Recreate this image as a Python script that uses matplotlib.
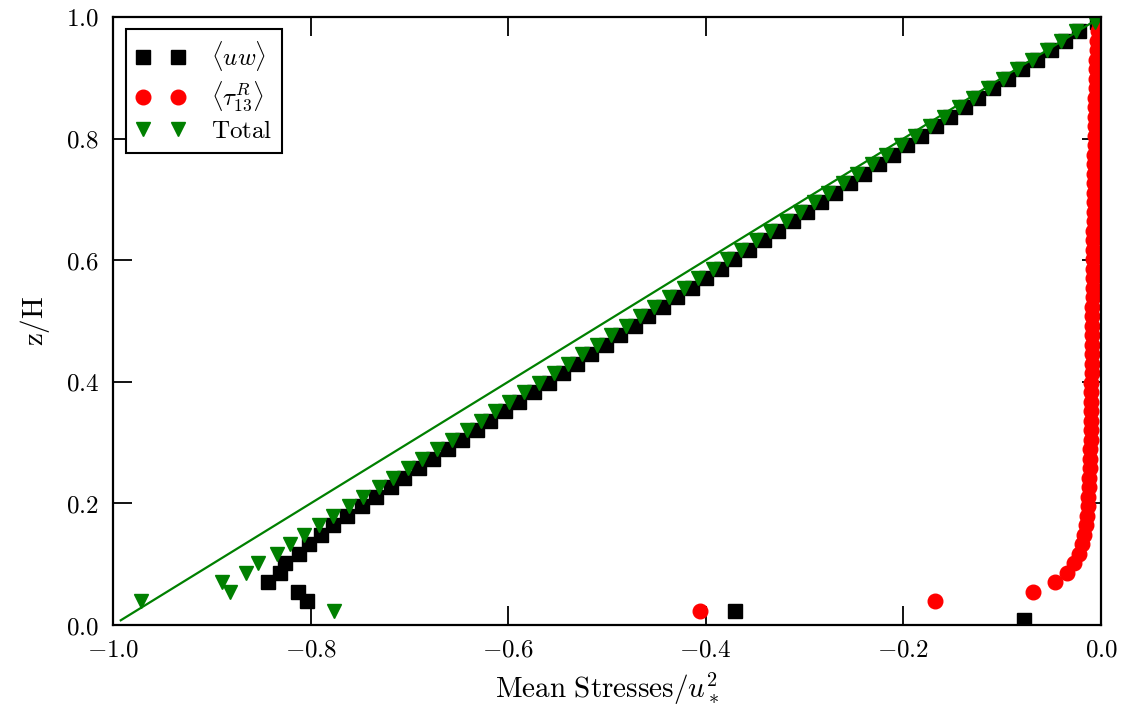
import matplotlib
matplotlib.use('Agg')
import matplotlib.pyplot as plt
import numpy as np
from matplotlib.ticker import FuncFormatter

plt.rcParams['mathtext.fontset'] = 'cm'
plt.rcParams['font.family'] = 'serif'

# vertical grid levels z/H
z = [0.0078, 0.0234, 0.0391, 0.0547, 0.0703, 0.0859, 0.1016, 0.1172,
     0.1328, 0.1484, 0.1641, 0.1797, 0.1953, 0.2109, 0.2266, 0.2422,
     0.2578, 0.2734, 0.2891, 0.3047, 0.3203, 0.3359, 0.3516, 0.3672,
     0.3828, 0.3984, 0.4141, 0.4297, 0.4453, 0.4609, 0.4766, 0.4922,
     0.5078, 0.5234, 0.5391, 0.5547, 0.5703, 0.5859, 0.6016, 0.6172,
     0.6328, 0.6484, 0.6641, 0.6797, 0.6953, 0.7109, 0.7266, 0.7422,
     0.7578, 0.7734, 0.7891, 0.8047, 0.8203, 0.8359, 0.8516, 0.8672,
     0.8828, 0.8984, 0.9141, 0.9297, 0.9453, 0.9609, 0.9766, 0.9922]

# resolved stress <uw>
uw = [-0.078, -0.370, -0.804, -0.813, -0.843, -0.831, -0.826, -0.812,
      -0.802, -0.790, -0.777, -0.763, -0.748, -0.734, -0.719, -0.705,
      -0.690, -0.676, -0.661, -0.647, -0.632, -0.618, -0.603, -0.589,
      -0.574, -0.559, -0.545, -0.530, -0.516, -0.501, -0.487, -0.472,
      -0.458, -0.443, -0.429, -0.414, -0.400, -0.385, -0.371, -0.356,
      -0.341, -0.327, -0.312, -0.298, -0.283, -0.269, -0.254, -0.240,
      -0.225, -0.211, -0.196, -0.182, -0.167, -0.153, -0.138, -0.124,
      -0.109, -0.094, -0.080, -0.065, -0.051, -0.036, -0.022, -0.004]

# SGS stress <tau13^R> (first level lies off the plot)
tau = [np.nan, -0.406, -0.168, -0.069, -0.047, -0.034, -0.027, -0.022,
       -0.019, -0.017, -0.015, -0.014, -0.013, -0.013, -0.012, -0.012,
       -0.011, -0.011, -0.011, -0.010, -0.010, -0.010, -0.010, -0.010,
       -0.010, -0.010, -0.009, -0.009, -0.009, -0.009, -0.009, -0.009,
       -0.009, -0.009, -0.008, -0.008, -0.008, -0.008, -0.008, -0.008,
       -0.008, -0.008, -0.007, -0.007, -0.007, -0.007, -0.007, -0.007,
       -0.007, -0.007, -0.006, -0.006, -0.006, -0.006, -0.006, -0.006,
       -0.005, -0.005, -0.005, -0.005, -0.004, -0.004, -0.003, -0.002]

# total stress
total = [np.nan, -0.776, -0.972, -0.882, -0.890, -0.865, -0.853, -0.834,
         -0.821, -0.807, -0.792, -0.777, -0.761, -0.747, -0.731, -0.717,
         -0.701, -0.687, -0.672, -0.657, -0.642, -0.628, -0.613, -0.599,
         -0.584, -0.569, -0.554, -0.539, -0.525, -0.510, -0.496, -0.481,
         -0.467, -0.452, -0.437, -0.422, -0.408, -0.393, -0.379, -0.364,
         -0.349, -0.335, -0.319, -0.305, -0.290, -0.276, -0.261, -0.247,
         -0.232, -0.218, -0.202, -0.188, -0.173, -0.159, -0.144, -0.130,
         -0.114, -0.099, -0.085, -0.070, -0.055, -0.040, -0.025, -0.006]

xticks = [-1.0, -0.8, -0.6, -0.4, -0.2, 0.0]
yticks = [0.0, 0.2, 0.4, 0.6, 0.8, 1.0]

z = np.array(z)

fig = plt.figure(figsize=(11.27, 7.19), dpi=100)
ax = fig.add_axes([0.1003, 0.1307, 0.8766, 0.8457])

ms = 10.5
ax.plot(uw, z, 's', color='black', mec='black', ms=ms, label=r'$\langle uw \rangle$')
ax.plot(tau, z, 'o', color='red', mec='red', ms=ms, label=r'$\langle \tau_{13}^R \rangle$')
ax.plot(total, z, 'v', color='green', mec='green', ms=ms, label=r'$\mathrm{Total}$')
# theoretical total stress line
ax.plot(z - 1.0, z, '-', color='green', lw=1.6)

ax.set_xlim(-1.0, 0.0)
ax.set_ylim(0.0, 1.0)
ax.set_xticks(xticks)
ax.set_yticks(yticks)
fmt = FuncFormatter(lambda v, p: r'$%.1f$' % v)
ax.xaxis.set_major_formatter(fmt)
ax.yaxis.set_major_formatter(fmt)
ax.tick_params(direction='in', length=14, width=1.3, labelsize=18, pad=10,
               top=True, right=True)
for s in ax.spines.values():
    s.set_linewidth(1.6)

ax.set_xlabel(r'$\mathrm{Mean\ Stresses}/u_*^2$', fontsize=21, labelpad=6)
ax.set_ylabel(r'$\mathrm{z/H}$', fontsize=21, labelpad=10)

leg = ax.legend(loc='upper left', numpoints=2, fontsize=18, handlelength=2.0,
                handletextpad=1.0, borderpad=0.4, labelspacing=0.25,
                fancybox=False, framealpha=1.0)
leg.get_frame().set_edgecolor('black')
leg.get_frame().set_linewidth(1.5)

plt.savefig('out.png', dpi=100)
